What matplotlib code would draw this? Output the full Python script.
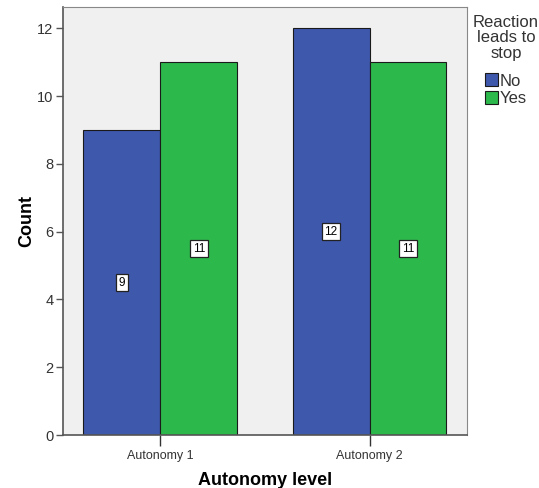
import matplotlib
matplotlib.use("Agg")
import matplotlib.pyplot as plt
import numpy as np

plt.rcParams["font.family"] = ["Liberation Sans", "DejaVu Sans"]

categories = ["Autonomy 1", "Autonomy 2"]
series_names = ["No", "Yes"]
no_counts = [9, 12]
yes_counts = [11, 11]
colors = {"No": "#3E58AC", "Yes": "#2DB84B"}

fig = plt.figure(figsize=(5.39, 4.88), dpi=100)
ax = fig.add_axes([0.117, 0.1086, 0.749, 0.877])
ax.set_facecolor("#F0F0F0")

x = np.arange(len(categories))
width = 0.368
handles = []
for offset, name, vals in [(-width / 2, "No", no_counts), (width / 2, "Yes", yes_counts)]:
    bars = ax.bar(x + offset, vals, width, color=colors[name], edgecolor="#1a1a1a",
                  linewidth=0.8, label=name, zorder=2)
    handles.append(bars)
    for xi, v in zip(x + offset, vals):
        ax.text(xi, v / 2, str(v), ha="center", va="center", fontsize=8.5, zorder=3,
                bbox=dict(boxstyle="square,pad=0.22", facecolor="white",
                          edgecolor="#222222", linewidth=0.9))

ax.set_xlim(-0.465, 1.465)
ax.set_ylim(0, 12.63)
ax.set_xticks(x)
ax.set_xticklabels(categories, fontsize=9, color="#333333")
ax.set_yticks([0, 2, 4, 6, 8, 10, 12])
ax.tick_params(axis="y", labelsize=10.5, length=5, width=1, colors="#555555",
               labelcolor="#333333", pad=2)
ax.tick_params(axis="x", length=8, width=1, color="#333333", pad=3)
for side in ["left", "bottom"]:
    ax.spines[side].set_color("#555555")
    ax.spines[side].set_linewidth(1.2)
for side in ["top", "right"]:
    ax.spines[side].set_color("#888888")
    ax.spines[side].set_linewidth(0.8)

ax.set_xlabel("Autonomy level", fontsize=13, fontweight="bold", labelpad=7)
ax.set_ylabel("Count", fontsize=13, fontweight="bold", labelpad=1)

leg = fig.legend(handles=handles, labels=series_names, title="Reaction\nleads to\nstop",
                 loc="upper left", bbox_to_anchor=(0.868, 0.98), frameon=False,
                 fontsize=12, title_fontsize=12, handlelength=0.8, handleheight=0.8,
                 handletextpad=0.1, labelspacing=0.15, borderaxespad=0, borderpad=0.3)
leg._legend_box.sep = 9
leg.get_title().set_multialignment("center")
leg.get_title().set_linespacing(1.05)
leg.get_title().set_color("#333333")
for t in leg.get_texts():
    t.set_color("#333333")

fig.savefig("out.png", dpi=100)
